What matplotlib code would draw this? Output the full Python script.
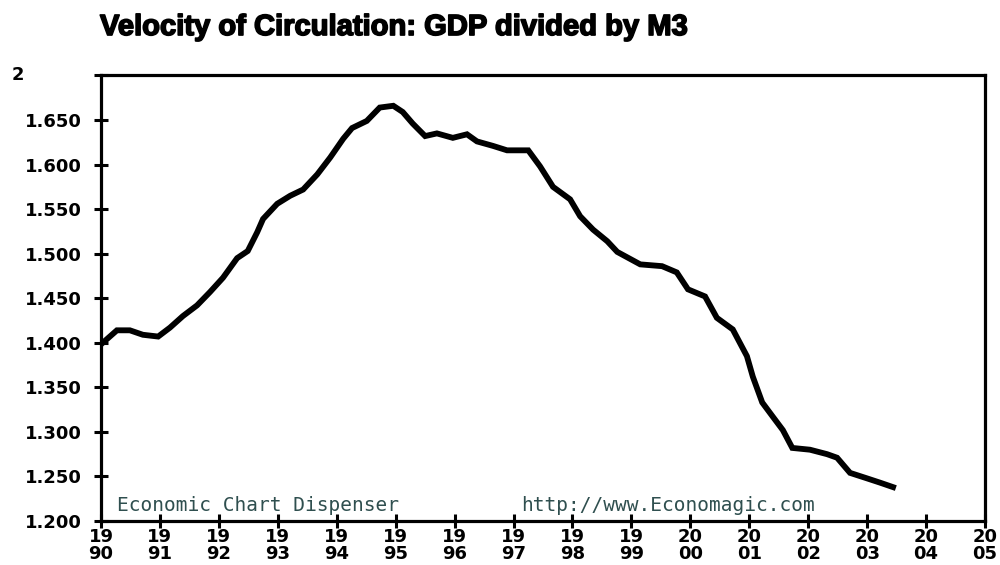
import matplotlib
matplotlib.use("Agg")
import matplotlib.pyplot as plt
import matplotlib.transforms as mtransforms
import matplotlib.patheffects as pe

# Data
years = [1990.03, 1990.27, 1990.49, 1990.71, 1990.97, 1991.17, 1991.39, 1991.63,
         1991.85, 1992.07, 1992.31, 1992.49, 1992.65, 1992.75, 1992.99, 1993.21,
         1993.43, 1993.67, 1993.89, 1994.11, 1994.26, 1994.51, 1994.73, 1994.96,
         1995.12, 1995.29, 1995.50, 1995.70, 1995.97, 1996.21, 1996.38, 1996.65,
         1996.89, 1997.25, 1997.45, 1997.67, 1997.96, 1998.13, 1998.35, 1998.59,
         1998.76, 1999.15, 1999.52, 1999.77, 1999.96, 2000.25, 2000.45, 2000.72,
         2000.96, 2001.06, 2001.22, 2001.40, 2001.57, 2001.73, 2002.03, 2002.32,
         2002.49, 2002.71, 2002.99, 2003.22, 2003.44]
velocity = [1.400, 1.414, 1.414, 1.409, 1.407, 1.417, 1.430, 1.442,
            1.457, 1.473, 1.495, 1.503, 1.524, 1.539, 1.556, 1.565,
            1.572, 1.589, 1.608, 1.629, 1.641, 1.649, 1.664, 1.666,
            1.659, 1.646, 1.632, 1.635, 1.630, 1.634, 1.626, 1.621,
            1.616, 1.616, 1.598, 1.575, 1.561, 1.542, 1.527, 1.514,
            1.502, 1.488, 1.486, 1.479, 1.460, 1.452, 1.428, 1.415,
            1.385, 1.362, 1.333, 1.317, 1.302, 1.282, 1.280, 1.275,
            1.271, 1.254, 1.248, 1.243, 1.238]

y_ticks = [1.20, 1.25, 1.30, 1.35, 1.40, 1.45, 1.50, 1.55, 1.60, 1.65, 1.70]
y_labels = ["1.200", "1.250", "1.300", "1.350", "1.400", "1.450", "1.500",
            "1.550", "1.600", "1.650", ""]
x_ticks = list(range(1990, 2006))
x_labels = [f"{str(y)[:2]}\n{str(y)[2:]}" for y in x_ticks]

title = "Velocity of Circulation: GDP divided by M3"

fig = plt.figure(figsize=(10, 5.65), dpi=100)
ax = fig.add_axes([0.101, 0.0779, 0.884, 0.7885])

ax.plot(years, velocity, color="black", lw=4.2, solid_joinstyle="miter")

ax.set_xlim(1990, 2005)
ax.set_ylim(1.2, 1.7)
ax.set_yticks(y_ticks)
ax.set_yticklabels(y_labels)
ax.set_xticks(x_ticks)
ax.set_xticklabels(x_labels, linespacing=0.9)

for s in ax.spines.values():
    s.set_linewidth(2.3)
    s.set_color("black")

ax.tick_params(axis="both", direction="inout", length=10, width=2.2,
               labelsize=13, colors="black")
ax.tick_params(axis="y", pad=9)
ax.tick_params(axis="x", pad=0)
for lbl in ax.get_xticklabels() + ax.get_yticklabels():
    lbl.set_fontweight("bold")
    lbl.set_family("DejaVu Sans")

# top "2" label
trans = mtransforms.blended_transform_factory(ax.transAxes, ax.transData)
ax.text(-0.101, 1.7, "2", transform=trans, fontsize=13, fontweight="bold",
        ha="left", va="center", family="DejaVu Sans")

# watermark texts
ax.text(1990.27, 1.211, "Economic Chart Dispenser", color="#2F4F4F",
        fontsize=14, family="DejaVu Sans Mono", ha="left", va="baseline")
ax.text(1997.13, 1.211, "http://www.Economagic.com", color="#2F4F4F",
        fontsize=14, family="DejaVu Sans Mono", ha="left", va="baseline")

fig.text(0.100, 0.938, title, fontsize=21, fontweight="bold",
         family="Liberation Sans", ha="left", va="baseline",
         path_effects=[pe.withStroke(linewidth=1.2, foreground="black")])

fig.savefig("out.png", dpi=100, facecolor="white")
